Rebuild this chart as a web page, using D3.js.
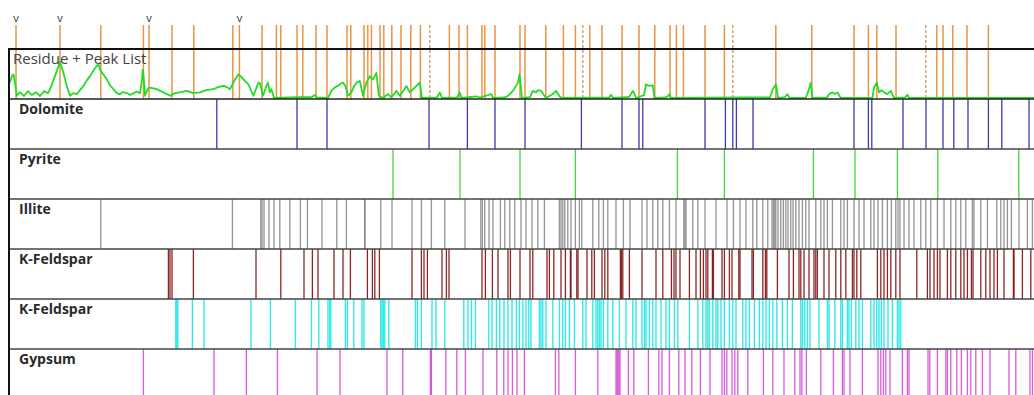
<!DOCTYPE html>
<html>
<head>
<meta charset="utf-8">
<script src="https://cdnjs.cloudflare.com/ajax/libs/d3/7.8.5/d3.min.js"></script>
<style>
  html, body { margin:0; padding:0; background:#fff; overflow:hidden; }
  text { font-family: "Open Sans", "Segoe UI", sans-serif; }
</style>
</head>
<body>
<div id="chart"></div>
<script>
// 2-theta positions (deg)
var peakList = [5.30, 7.50, 9.54, 11.67, 11.95, 13.10, 14.19, 16.14, 16.47,
  17.60, 18.32, 18.54, 19.35, 19.64, 20.30, 20.85, 21.85, 22.04, 22.70, 22.89, 23.07, 23.50, 23.69,
  24.09, 24.55, 25.04, 25.52, 26.97, 27.45, 27.87, 28.60, 28.74, 29.25,
  30.50, 30.75, 31.79, 32.67, 33.27, 33.99, 34.60, 35.60, 36.45, 37.24, 38.00, 38.32, 38.67,
  39.75, 40.72, 43.29, 45.09, 47.20, 47.92, 48.34, 49.30, 51.34, 51.65, 52.14, 52.85, 53.92];
var peakListDashed = [25.99, 33.64, 41.14, 50.79];
var peakMarks = [5.30, 7.50, 11.95, 16.47];

// residue pattern [2theta, counts]
var residue = [[5.00,31.4],[5.09,44.6],[5.17,48],[5.25,31.4],[5.34,4.6],[5.50,12],[5.70,4],[5.90,14],
  [6.10,6],[6.30,12],[6.50,4],[6.70,14],[6.90,10],[7.00,18],[7.25,44.6],[7.50,74],[7.67,51.4],
  [7.84,24.6],[8.00,4.6],[8.15,10],[8.34,8],[8.50,16],[8.67,24.6],[8.84,36],[9.00,44.6],[9.17,56],
  [9.34,66],[9.43,68],[9.50,58],[9.67,48],[9.84,38],[10.00,26],[10.17,18],[10.34,10],[10.50,8],
  [10.65,12],[10.84,10],[11.00,6],[11.17,10],[11.34,13],[11.50,10],[11.60,38],[11.64,58],[11.69,38],
  [11.75,4.6],[11.88,18],[12.00,21.4],[12.34,18],[12.67,11.4],[13.00,4.6],[13.25,10],[13.50,11.4],
  [13.84,14.6],[14.15,10],[14.50,11.4],[14.80,16],[15.17,18],[15.40,22],[15.67,24.6],[15.85,22],
  [16.00,18],[16.15,30],[16.25,38],[16.42,48],[16.55,44],[16.67,38],[16.92,28],[17.17,4.6],[17.30,18],
  [17.42,31.4],[17.50,30],[17.65,4.6],[17.82,24.6],[17.90,31.4],[17.99,11.4],[18.07,18],[18.20,0],
  [19.00,1],[20.10,2],[20.24,6],[20.35,1],[20.90,0],[21.07,14.6],[21.25,22],[21.40,24.6],[21.55,30],
  [21.65,31.4],[21.77,24.6],[21.90,4.6],[22.07,11.4],[22.18,22],[22.32,31.4],[22.49,34.6],[22.58,18],
  [22.65,4.6],[22.82,31.4],[22.99,44.6],[23.15,38],[23.32,51.4],[23.38,28],[23.44,4.6],[23.65,0],
  [23.90,8],[24.07,1.4],[24.32,14.6],[24.49,4.6],[24.65,14],[24.82,24.6],[24.99,11.4],[25.10,16],
  [25.24,21.4],[25.49,31.4],[25.60,0],[26.35,1],[26.49,11.4],[26.60,0],[27.35,1],[27.49,11.4],[27.57,0],
  [28.32,3.4],[28.50,1],[29.07,8],[29.15,0],[29.75,1],[29.90,4.6],[30.15,14.6],[30.40,31.4],[30.47,48],
  [30.53,28],[30.60,0],[31.00,2],[31.14,14.6],[31.30,11.4],[31.40,16],[31.55,14.6],[31.72,4.6],[31.80,0],
  [32.14,8],[32.30,14.6],[32.47,3.4],[32.60,0],[34.95,1],[35.05,6.6],[35.15,0],[35.95,2],[36.05,8],
  [36.14,14.6],[36.23,8],[36.30,0],[36.70,6],[36.80,28],[36.97,24.6],[37.14,26],[37.22,0],[37.75,1],
  [37.89,3.4],[37.97,8],[38.05,0],[41.50,1],[43.00,1],[43.14,18],[43.30,28],[43.40,0],[43.75,2],
  [43.87,8],[43.98,0],[44.79,0],[44.95,18],[45.04,31.4],[45.12,0],[45.85,1],[45.95,8],[46.12,11.4],
  [46.25,8],[46.37,11.4],[46.54,0],[48.12,0],[48.20,21.4],[48.34,31.4],[48.45,11.4],[48.58,16],
  [48.70,11.4],[48.87,8],[49.04,14.6],[49.20,0],[49.75,1],[49.87,6.6],[49.95,0],[56.20,0]];

var dolomite = [15.34, 19.35, 20.85, 25.95, 27.87, 29.25, 30.75, 33.57, 35.60, 36.45, 36.64, 39.75,
  40.77, 41.14, 41.32, 42.15, 47.20, 47.92, 48.09, 49.65, 50.80, 51.65, 52.19, 52.90, 53.92, 54.59, 55.95];

var pyrite = [24.15, 27.50, 30.50, 33.27, 38.37, 40.72, 45.17, 47.25, 49.37, 51.39, 55.44];

var illite = [9.54, 16.12, 17.54, 17.60, 17.70, 17.95, 18.20, 18.49, 18.99, 19.52, 19.87, 20.60, 21.34,
  21.82, 22.74, 22.74, 23.54, 24.10, 25.10, 25.57, 26.07, 26.74, 27.75, 28.54, 28.62, 28.74, 28.95, 29.15,
  29.52, 29.74, 29.99, 30.24, 30.55, 30.80, 31.10, 31.39, 31.72, 32.47, 32.55, 32.64, 32.74, 32.89,
  33.05, 33.27, 33.47, 33.59, 34.14, 34.44, 34.67, 34.89, 35.30, 35.67, 36.00, 36.60, 36.85, 37.14,
  37.39, 37.64, 37.97, 38.30, 38.69, 38.75, 38.80, 39.14, 39.39, 39.75, 40.30, 40.85, 41.17, 41.50,
  41.80, 42.14, 42.34, 42.64, 42.89, 43.10, 43.17, 43.24, 43.29, 43.40, 43.54, 43.67, 43.79, 43.90,
  44.04, 44.15, 44.29, 44.45, 44.62, 44.79, 44.95, 45.29, 45.54, 45.70, 45.87, 46.12, 46.54, 46.70,
  46.87, 47.20, 47.45, 47.70, 48.04, 48.20, 48.40, 48.62, 48.87, 49.07, 49.29, 49.40, 49.50, 49.70,
  49.95, 50.20, 50.54, 50.79, 51.04, 51.37, 51.70, 52.04, 52.29, 52.54, 52.79, 53.12, 53.20, 53.54,
  53.87, 54.34, 54.54, 54.70, 54.87, 55.07, 55.45, 55.87, 56.12];

var kFeldsparA = [12.92, 13.00, 13.10, 14.17, 17.30, 18.54, 19.70, 20.12, 20.40, 21.20, 21.65, 22.02,
  22.87, 23.12, 23.24, 23.47, 25.10, 25.57, 25.70, 25.87, 26.60, 26.82, 26.95, 28.60, 28.77, 29.12,
  29.40, 29.90, 30.02, 30.50, 31.00, 31.14, 31.85, 31.97, 32.19, 32.55, 32.77, 33.02, 33.05, 33.34,
  33.40, 33.85, 34.09, 34.22, 34.60, 34.74, 34.89, 35.52, 35.57, 35.64, 35.97, 36.60, 37.30, 37.64,
  38.07, 38.20, 38.30, 38.50, 38.97, 39.30, 39.52, 39.67, 39.80, 39.89, 40.12, 40.17, 40.60, 40.72,
  40.97, 41.10, 41.44, 41.50, 42.10, 42.17, 42.64, 42.77, 42.84, 43.37, 43.95, 44.17, 44.45, 44.54,
  44.70, 44.95, 45.20, 45.29, 45.37, 45.70, 45.95, 46.29, 46.54, 46.79, 47.12, 47.20, 47.34, 47.54,
  48.37, 48.54, 48.70, 48.87, 49.04, 49.29, 49.50, 50.34, 50.87, 51.00, 51.20, 51.37, 51.50, 51.87,
  52.04, 52.29, 52.54, 52.70, 52.87, 53.07, 53.15, 53.54, 53.79, 54.00, 54.20, 54.37, 54.70, 55.17,
  55.20, 55.62, 56.04];

var kFeldsparB = [13.29, 13.34, 13.39, 14.12, 14.70, 17.05, 18.02, 19.27, 20.07, 20.44, 20.90, 20.99,
  21.04, 21.77, 21.87, 22.19, 22.60, 22.70, 23.54, 23.60, 23.67, 23.74, 23.94, 25.27, 25.37, 25.57,
  26.10, 26.30, 26.74, 27.69, 27.90, 28.07, 28.27, 28.94, 29.10, 29.32, 29.49, 29.70, 29.90, 30.10,
  30.32, 30.47, 30.64, 30.80, 30.94, 31.05, 31.47, 31.55, 31.64, 31.80, 32.14, 32.47, 32.64, 32.77,
  32.97, 33.22, 33.64, 33.80, 34.14, 34.30, 34.39, 34.47, 34.55, 34.67, 34.89, 35.14, 35.47, 35.80,
  36.14, 36.30, 36.60, 36.72, 36.80, 36.97, 37.14, 37.30, 37.55, 37.80, 37.97, 38.22, 38.39, 38.97,
  39.39, 39.64, 39.80, 39.89, 39.97, 40.14, 40.30, 40.39, 40.55, 40.72, 40.97, 41.14, 41.30, 41.64,
  41.80, 41.97, 42.22, 42.47, 42.64, 42.80, 42.97, 43.14, 43.34, 43.62, 43.87, 44.12, 44.54, 44.62,
  44.74, 44.87, 45.00, 45.45, 45.87, 45.95, 46.24, 46.54, 46.62, 46.87, 46.95, 47.07, 47.29, 47.45,
  47.62, 48.04, 48.20, 48.34, 48.45, 48.57, 48.70, 48.90, 49.12, 49.37, 49.45, 49.54];

var gypsum = [11.67, 15.20, 16.82, 18.37, 20.35, 21.50, 23.85, 24.64, 26.02, 26.07, 26.79, 27.34, 27.77,
  28.65, 29.34, 29.69, 29.90, 30.12, 30.35, 30.72, 32.27, 32.44, 33.27, 34.39, 35.30, 35.35, 35.40,
  35.45, 35.50, 35.92, 36.19, 36.92, 37.44, 37.60, 37.97, 38.44, 38.75, 39.09, 39.52, 40.00, 40.60,
  40.72, 40.84, 41.10, 41.24, 41.39, 41.89, 42.67, 43.14, 43.70, 44.24, 44.50, 44.59, 44.82, 45.54,
  46.17, 46.62, 46.70, 47.00, 47.62, 48.40, 48.54, 48.67, 48.79, 49.00, 49.62, 49.87, 49.95, 50.90,
  50.99, 51.37, 51.79, 51.87, 52.04, 52.34, 52.57, 52.87, 53.04, 53.29, 53.62, 54.00, 54.95, 55.29,
  56.00, 56.12];

var rowIds = ['residue', 'dol', 'pyr', 'ill', 'kfs1', 'kfs2', 'gyp'];
var rowLabels = ['Residue + Peak List', 'Dolomite', 'Pyrite', 'Illite', 'K-Feldspar', 'K-Feldspar', 'Gypsum'];

var Chart = function() {
  var W = 1034, H = 395;
  var left = 9, top = 49;

  var svg = d3.select('#chart').append('svg')
    .attr('width', W).attr('height', H);

  svg.append('rect').attr('width', W).attr('height', H).attr('fill', '#fff');

  var x = d3.scaleLinear().domain([5, 56.2]).range([10, 1034]);
  var y = d3.scaleBand().domain(rowIds).range([top, top + 50 * rowIds.length]);

  var phases = [
    {id: 'dol', peaks: dolomite, color: '#3b3bb0', w: 1.3, op: 1},
    {id: 'pyr', peaks: pyrite, color: '#45d445', w: 1.3, op: 1},
    {id: 'ill', peaks: illite, color: '#808080', w: 1.3, op: 0.85},
    {id: 'kfs1', peaks: kFeldsparA, color: '#7e0f0f', w: 1.3, op: 0.9},
    {id: 'kfs2', peaks: kFeldsparB, color: '#1fe6e6', w: 1.4, op: 0.9},
    {id: 'gyp', peaks: gypsum, color: '#d040d0', w: 1.3, op: 0.85}
  ];

  // phase stick patterns
  var bands = svg.append('g').attr('class', 'bands');
  phases.forEach(function(p) {
    var y0 = y(p.id), y1 = y0 + y.bandwidth();
    bands.append('g').attr('class', 'band-' + p.id)
      .selectAll('line').data(p.peaks).enter()
      .append('line')
      .attr('x1', function(d) { return x(d); })
      .attr('x2', function(d) { return x(d); })
      .attr('y1', y0)
      .attr('y2', y1)
      .attr('stroke', p.color)
      .attr('stroke-width', p.w)
      .attr('stroke-opacity', p.op);
  });

  // residue curve
  var r0 = y('residue');
  var yRes = d3.scaleLinear().domain([0, 100]).range([r0 + y.bandwidth() - 1, r0]);
  svg.append('clipPath').attr('id', 'res-clip')
    .append('rect').attr('x', left).attr('y', r0).attr('width', W - left).attr('height', y.bandwidth());

  // peak list
  var peaks = svg.append('g').attr('class', 'peak-list');
  peaks.selectAll('.peak').data(peakList).enter()
    .append('line').attr('class', 'peak')
    .attr('x1', function(d) { return x(d); })
    .attr('x2', function(d) { return x(d); })
    .attr('y1', 25)
    .attr('y2', r0 + y.bandwidth())
    .attr('stroke', '#ea9444')
    .attr('stroke-width', 1.5);
  peaks.selectAll('.peak-dash').data(peakListDashed).enter()
    .append('line').attr('class', 'peak-dash')
    .attr('x1', function(d) { return x(d); })
    .attr('x2', function(d) { return x(d); })
    .attr('y1', 25)
    .attr('y2', r0 + y.bandwidth())
    .attr('stroke', '#e0a070')
    .attr('stroke-width', 1.5)
    .attr('stroke-dasharray', '3,2');

  svg.append('path').datum(residue)
    .attr('clip-path', 'url(#res-clip)')
    .attr('fill', 'none')
    .attr('stroke', '#22dd22')
    .attr('stroke-width', 1.8)
    .attr('stroke-linejoin', 'round')
    .attr('d', d3.line()
      .x(function(d) { return x(d[0]); })
      .y(function(d) { return yRes(d[1]); }));

  svg.append('g').selectAll('text').data(peakMarks).enter()
    .append('text')
    .attr('x', function(d) { return x(d); })
    .attr('y', 22)
    .attr('text-anchor', 'middle')
    .style('font-size', '11px')
    .style('fill', '#333')
    .text('v');

  // frame and row separators
  var frame = svg.append('g').attr('class', 'frame');
  frame.selectAll('line.sep').data(rowIds.slice(1)).enter()
    .append('line').attr('class', 'sep')
    .attr('x1', left).attr('x2', W)
    .attr('y1', function(d) { return y(d); })
    .attr('y2', function(d) { return y(d); })
    .attr('stroke', function(d, i) { return i === 0 ? '#222' : '#444'; })
    .attr('stroke-width', 1.5);
  frame.append('line')
    .attr('x1', left).attr('x2', W).attr('y1', top).attr('y2', top)
    .attr('stroke', '#111').attr('stroke-width', 2);
  frame.append('line')
    .attr('x1', left).attr('x2', left).attr('y1', top - 1).attr('y2', H)
    .attr('stroke', '#111').attr('stroke-width', 2);

  // row labels
  svg.append('g').selectAll('text').data(rowIds).enter()
    .append('text')
    .attr('x', function(d, i) { return i === 0 ? 13 : 19; })
    .attr('y', function(d, i) { return y(d) + 15; })
    .style('font-size', function(d, i) { return i === 0 ? '15px' : '14px'; })
    .style('font-weight', function(d, i) { return i === 0 ? 'normal' : 'bold'; })
    .style('fill', function(d, i) { return i === 0 ? '#444' : '#2a2a2a'; })
    .text(function(d, i) { return rowLabels[i]; });
};

Chart();
</script>
</body>
</html>
